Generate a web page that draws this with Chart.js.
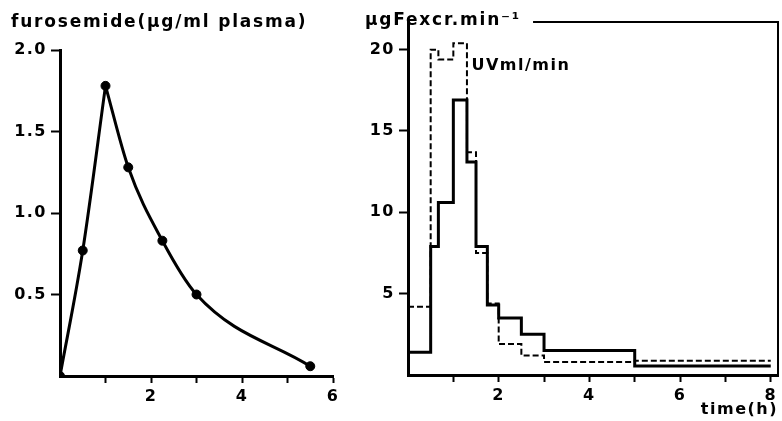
<!DOCTYPE html>
<html>
<head>
<meta charset="utf-8">
<script src="https://cdn.jsdelivr.net/npm/chart.js@4.4.1/dist/chart.umd.min.js"></script>
<style>
  html, body { margin: 0; padding: 0; background: #fff; }
  #wrap { position: relative; width: 782px; height: 421px; background: #fff; }
  canvas { position: absolute; top: 0; }
  #plasma { left: 0; }
  #excr { left: 360px; }
</style>
</head>
<body>
<div id="wrap">
  <canvas id="plasma" width="360" height="421"></canvas>
  <canvas id="excr" width="422" height="421"></canvas>
</div>
<script>
// left panel: furosemide in plasma (ug/ml) vs time (h)
const plasmaTime = [0, 0.5, 1, 1.5, 2.25, 3, 5.5];
const plasmaConc = [0, 0.77, 1.78, 1.28, 0.83, 0.5, 0.06];
const plasmaXLabels = [2, 4, 6];
const plasmaYLabels = [0.5, 1.0, 1.5, 2.0];

// right panel: step plots, each value holds from intervalStart[i] to the next start
const intervalStart = [0, 0.5, 0.67, 1, 1.3, 1.5, 1.75, 2, 2.5, 3, 5];
const intervalEnd = 8;
const excrRate = [1.4, 7.9, 10.6, 16.9, 13.1, 7.9, 4.3, 3.5, 2.5, 1.5, 0.55];
const urineFlow = [4.2, 20.0, 19.4, 20.4, 13.7, 7.5, 4.4, 1.9, 1.2, 0.8, 0.88];
const excrXLabels = [2, 4, 6, 8];
const excrYLabels = [5, 10, 15, 20];
const uvLabelAt = { x: 1.4, y: 19.0 };

Chart.defaults.font.family = "'DejaVu Sans', sans-serif";
Chart.defaults.color = '#000';
Chart.defaults.animation = false;

const tickFont = { size: 16, weight: 'bold' };
const textFont = "bold 16px 'DejaVu Sans'";

function tickColor(ctx) {
  return ctx.tick && ctx.tick.value === 0 ? 'rgba(0,0,0,0)' : '#000';
}

// wide lettering like the original
const spacing = {
  id: 'spacing',
  beforeDraw(chart) { chart.ctx.letterSpacing = '1.5px'; }
};

// the peak splits the curve into two smooth pieces
const peak = plasmaConc.indexOf(Math.max(...plasmaConc));
const plasmaPts = plasmaTime.map((t, i) => ({ x: t, y: plasmaConc[i] }));

new Chart(document.getElementById('plasma'), {
  type: 'line',
  data: {
    datasets: [
      { data: plasmaPts.slice(0, peak + 1), borderColor: '#000', borderWidth: 3,
        pointRadius: 0, cubicInterpolationMode: 'monotone' },
      { data: plasmaPts.slice(peak), borderColor: '#000', borderWidth: 3,
        pointRadius: 0, cubicInterpolationMode: 'monotone' },
      { data: plasmaPts, showLine: false, pointRadius: 4.5,
        pointBackgroundColor: '#000', pointBorderColor: '#000' }
    ]
  },
  options: {
    responsive: false,
    layout: { padding: { top: 50, right: 27, left: 0, bottom: 0 } },
    plugins: { legend: { display: false }, tooltip: { enabled: false } },
    scales: {
      x: {
        type: 'linear', min: 0, max: 6,
        border: { display: true, color: '#000', width: 3 },
        grid: { drawOnChartArea: false, tickLength: 7, tickWidth: 2, color: tickColor },
        ticks: { stepSize: 1, autoSkip: false, maxRotation: 0, padding: 4, font: tickFont,
          callback: v => plasmaXLabels.includes(v) ? String(v) : '' },
        afterFit: s => { s.height = 45; }
      },
      y: {
        min: 0, max: 2,
        border: { display: true, color: '#000', width: 3 },
        grid: { drawOnChartArea: false, tickLength: 9, tickWidth: 2, color: tickColor },
        ticks: { stepSize: 0.5, padding: 4, font: tickFont,
          callback: v => plasmaYLabels.includes(v) ? v.toFixed(1) : '' },
        afterFit: s => { s.width = 60; }
      }
    }
  },
  plugins: [spacing, {
    id: 'plasmaTitle',
    afterDraw(chart) {
      const ctx = chart.ctx;
      ctx.save();
      ctx.font = "bold 17px 'DejaVu Sans'";
      ctx.letterSpacing = '1.8px';
      ctx.fillStyle = '#000';
      ctx.textBaseline = 'alphabetic';
      ctx.fillText('furosemide(µg/ml plasma)', 11, 27);
      ctx.restore();
    }
  }]
});

function stepPoints(values) {
  const pts = intervalStart.map((x, i) => ({ x: x, y: values[i] }));
  pts.push({ x: intervalEnd, y: values[values.length - 1] });
  return pts;
}

new Chart(document.getElementById('excr'), {
  type: 'line',
  data: {
    datasets: [
      { label: 'µgFexcr.min-1', data: stepPoints(excrRate), stepped: true,
        borderColor: '#000', borderWidth: 3, pointRadius: 0 },
      { label: 'UVml/min', data: stepPoints(urineFlow), stepped: true,
        borderColor: '#000', borderWidth: 2, borderDash: [6, 3], pointRadius: 0 }
    ]
  },
  options: {
    responsive: false,
    layout: { padding: { top: 22, right: 4, left: 0, bottom: 0 } },
    plugins: { legend: { display: false }, tooltip: { enabled: false } },
    scales: {
      x: {
        type: 'linear', min: 0, max: 8.16,
        border: { display: true, color: '#000', width: 3 },
        grid: { drawOnChartArea: false, tickLength: 7, tickWidth: 2, color: tickColor },
        ticks: { stepSize: 1, includeBounds: false, autoSkip: false, maxRotation: 0,
          padding: 4, font: tickFont,
          callback: v => excrXLabels.includes(v) ? String(v) : '' },
        afterFit: s => { s.height = 46; }
      },
      y: {
        min: 0, max: 21.7,
        border: { display: true, color: '#000', width: 3 },
        grid: { drawOnChartArea: false, tickLength: 9, tickWidth: 2, color: tickColor },
        ticks: { stepSize: 5, includeBounds: false, padding: 4, font: tickFont,
          callback: v => excrYLabels.includes(v) ? String(v) : '' },
        afterFit: s => { s.width = 48; }
      }
    }
  },
  plugins: [spacing, {
    id: 'excrText',
    afterDraw(chart) {
      const ctx = chart.ctx;
      const area = chart.chartArea;
      const sx = chart.scales.x, sy = chart.scales.y;
      ctx.save();
      ctx.font = "bold 17px 'DejaVu Sans'";
      ctx.letterSpacing = '1.8px';
      ctx.fillStyle = '#000';
      ctx.strokeStyle = '#000';
      ctx.textBaseline = 'alphabetic';
      ctx.textAlign = 'left';
      const title = 'µgFexcr.min⁻¹';
      ctx.fillText(title, 5, 25);
      const titleEnd = 5 + ctx.measureText(title).width;
      // open frame: top line after the title, then down the right side
      ctx.lineWidth = 2;
      ctx.beginPath();
      ctx.moveTo(titleEnd + 12, area.top);
      ctx.lineTo(area.right, area.top);
      ctx.lineTo(area.right, area.bottom);
      ctx.stroke();
      ctx.font = textFont;
      ctx.letterSpacing = '1.5px';
      ctx.textBaseline = 'middle';
      ctx.fillText('UVml/min', sx.getPixelForValue(uvLabelAt.x), sy.getPixelForValue(uvLabelAt.y));
      ctx.textAlign = 'right';
      ctx.textBaseline = 'alphabetic';
      ctx.fillText('time(h)', area.right, 414);
      ctx.restore();
    }
  }]
});
</script>
</body>
</html>
